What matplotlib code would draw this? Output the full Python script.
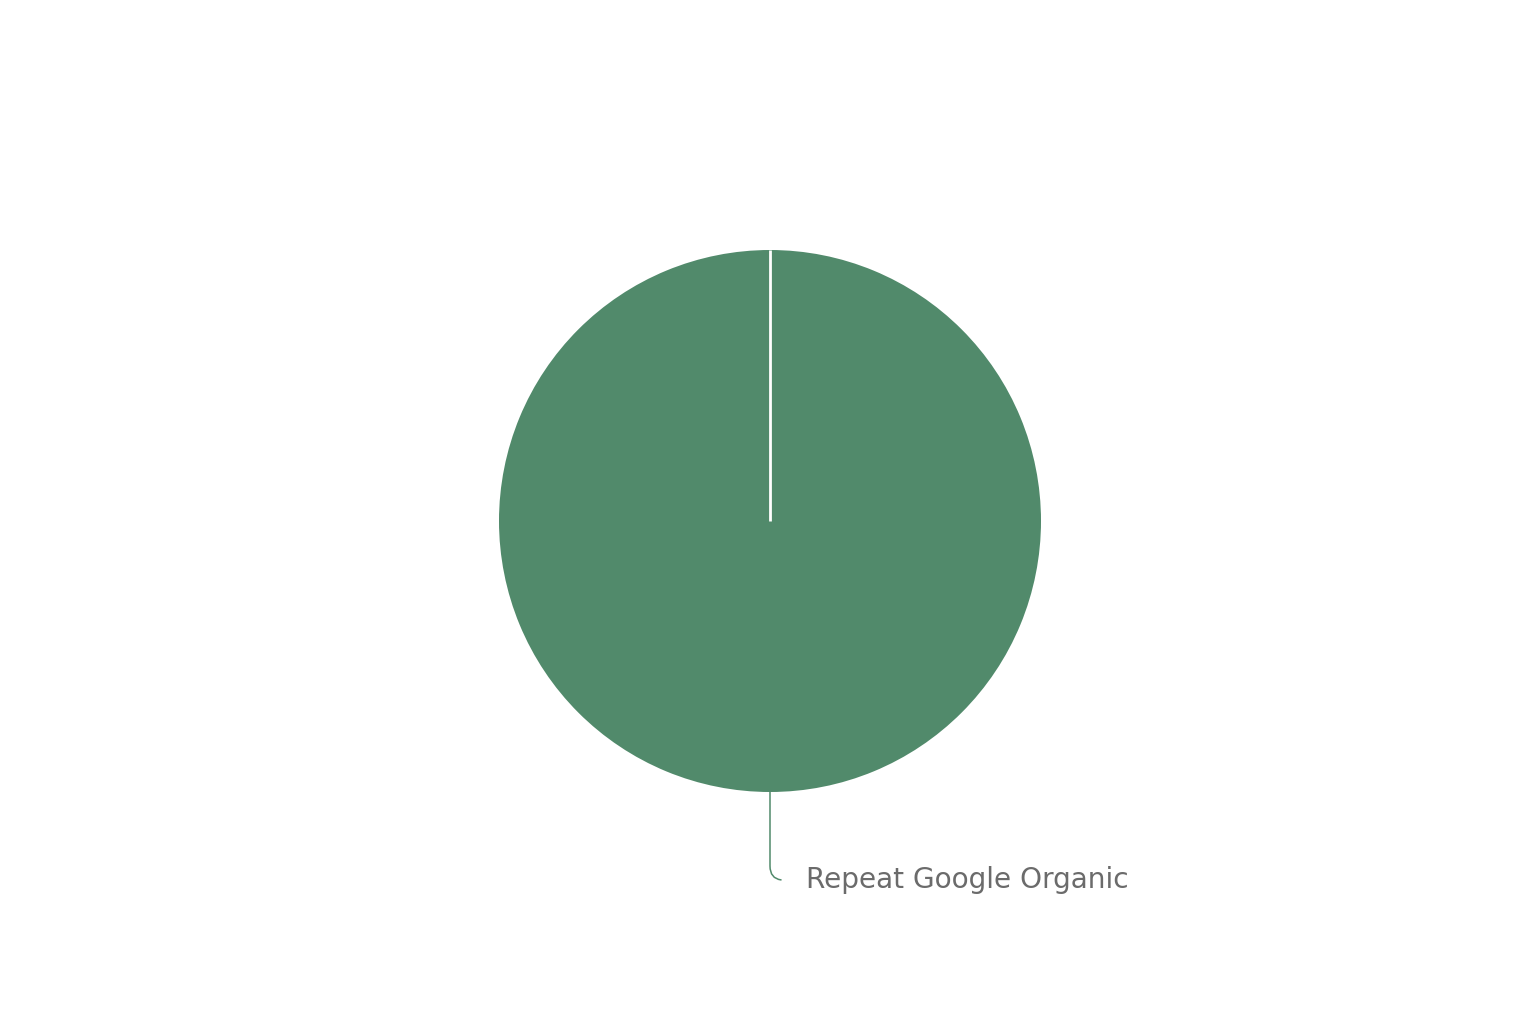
import matplotlib.pyplot as plt
import numpy as np

labels = ["Repeat Google Organic"]
values = [100]
colors = ["#518a6b"]

fig = plt.figure(figsize=(15.33, 10.21), dpi=100)
ax = fig.add_axes([0, 0, 1, 1])

# pie radius = 1 data unit (~271 px), centre at (770, 521) px
r_px = 271

wedges, _ = ax.pie(values, colors=colors, startangle=90, counterclock=False,
                   radius=1, center=(0, 0), frame=True)
ax.set_xlim(-770 / r_px, (1533 - 770) / r_px)
ax.set_ylim(-(1021 - 521) / r_px, 521 / r_px)
ax.set_aspect("equal")
ax.axis("off")

# white slice border from centre to start angle
ang = np.deg2rad(90)
ax.plot([0, np.cos(ang)], [0, np.sin(ang)], color="white", lw=2.0,
        solid_capstyle="butt")

# label with connector
mid = np.deg2rad(90 - 180)
ax.annotate(labels[0], xy=(np.cos(mid), np.sin(mid)),
            xytext=(0.133, -1.325), ha="left", va="center",
            fontsize=20.2, color="#6b6b6b", family="DejaVu Sans",
            arrowprops=dict(arrowstyle="-", color=colors[0], lw=1.1,
                            shrinkA=16, shrinkB=0,
                            connectionstyle="angle,angleA=180,angleB=90,rad=14"))

fig.savefig("out.png", dpi=100)
